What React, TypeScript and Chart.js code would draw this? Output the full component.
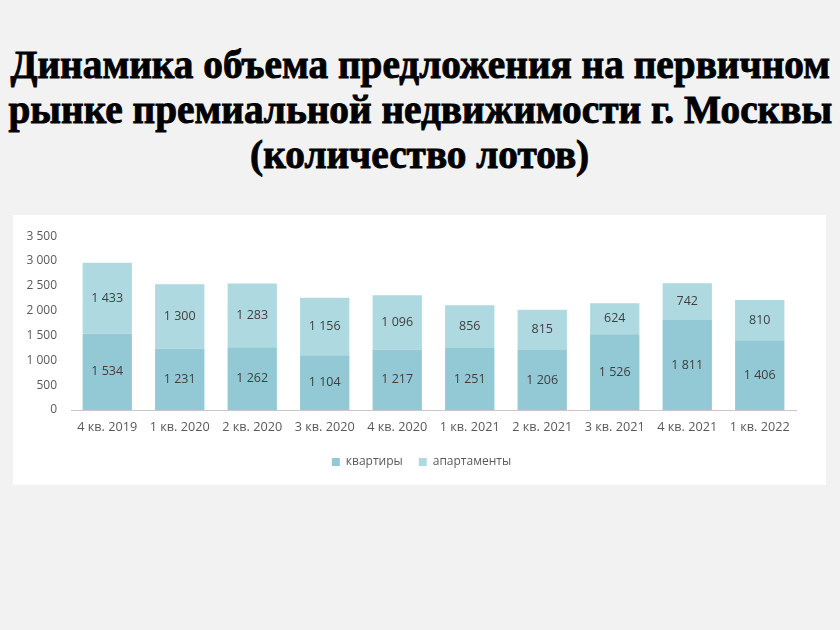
import React, { useEffect, useLayoutEffect, useRef, useState } from "react";
import { Chart, registerables } from "chart.js";

Chart.register(...registerables);

const titleLines = [
  "Динамика объема предложения на первичном",
  "рынке премиальной недвижимости г. Москвы",
  "(количество лотов)",
];

const categories = [
  "4 кв. 2019",
  "1 кв. 2020",
  "2 кв. 2020",
  "3 кв. 2020",
  "4 кв. 2020",
  "1 кв. 2021",
  "2 кв. 2021",
  "3 кв. 2021",
  "4 кв. 2021",
  "1 кв. 2022",
];

const seriesNames = ["квартиры", "апартаменты"];
const flats = [1534, 1231, 1262, 1104, 1217, 1251, 1206, 1526, 1811, 1406];
const apartments = [1433, 1300, 1283, 1156, 1096, 856, 815, 624, 742, 810];

const yMin = 0;
const yMax = 3500;
const yStep = 500;

const FONT = "'Open Sans', 'Noto Sans', sans-serif";

const fmt = (v: number) => String(v).replace(/\B(?=(\d{3})+(?!\d))/g, " ");

const dataLabelPlugin = {
  id: "dataLabels",
  afterDatasetsDraw(chart: any) {
    const ctx = chart.ctx;
    ctx.save();
    ctx.font = `12.5px ${FONT}`;
    ctx.fillStyle = "#404040";
    ctx.textAlign = "center";
    ctx.textBaseline = "middle";
    chart.data.datasets.forEach((ds: any, di: number) => {
      const meta = chart.getDatasetMeta(di);
      meta.data.forEach((el: any, i: number) => {
        const v = ds.data[i];
        const y = (el.y + el.base) / 2;
        ctx.fillText(fmt(v), el.x, y);
      });
    });
    ctx.restore();
  },
};

// centre the legend on the whole canvas rather than on the padded area
const legendCenterPlugin = {
  id: "legendCenter",
  afterLayout(chart: any) {
    const lg = chart.legend;
    if (lg) {
      lg.left = 2;
      lg.right = chart.width + 2;
      lg.width = chart.width;
    }
  },
};

function Title() {
  const ref = useRef<HTMLDivElement>(null);
  const [scale, setScale] = useState(1);
  useLayoutEffect(() => {
    const el = ref.current;
    if (!el) return;
    const spans = el.querySelectorAll("span");
    const w = (spans[1] as HTMLElement).offsetWidth;
    if (w > 0) setScale(824 / w);
  }, []);
  return (
    <div
      ref={ref}
      style={{
        position: "absolute",
        left: 0,
        top: 42,
        width: 840,
        fontFamily: "'Liberation Serif', 'DejaVu Serif', serif",
        fontWeight: 700,
        fontSize: 40,
        lineHeight: "45px",
        color: "#000",
        WebkitTextStroke: "0.9px #000",
      }}
    >
      {titleLines.map((t, i) => (
        <div key={i} style={{ textAlign: "center", whiteSpace: "nowrap" }}>
          <span
            style={{
              display: "inline-block",
              transform: `scaleX(${scale})`,
              transformOrigin: "center",
            }}
          >
            {t}
          </span>
        </div>
      ))}
    </div>
  );
}

function BarChart() {
  const canvasRef = useRef<HTMLCanvasElement>(null);
  useEffect(() => {
    const canvas = canvasRef.current;
    if (!canvas) return;
    const chart = new Chart(canvas, {
      type: "bar",
      data: {
        labels: categories,
        datasets: [
          {
            label: seriesNames[0],
            data: flats,
            backgroundColor: "#93C9D4",
            borderWidth: 0,
            barPercentage: 0.68,
            categoryPercentage: 1,
          },
          {
            label: seriesNames[1],
            data: apartments,
            backgroundColor: "#AFD9E0",
            borderWidth: 0,
            barPercentage: 0.68,
            categoryPercentage: 1,
          },
        ],
      },
      options: {
        animation: false,
        responsive: true,
        maintainAspectRatio: false,
        layout: { padding: { top: 19, right: 30, left: 0, bottom: 7 } },
        plugins: {
          tooltip: { enabled: false },
          title: { display: false },
          legend: {
            display: true,
            position: "bottom",
            labels: {
              boxWidth: 8,
              boxHeight: 8,
              padding: 16,
              color: "#595959",
              font: { family: FONT, size: 12 },
            },
          },
        },
        scales: {
          x: {
            stacked: true,
            grid: { display: false, drawTicks: false },
            border: { display: true, color: "#c8c8c8", dash: [2, 2], width: 1 },
            ticks: {
              color: "#595959",
              font: { family: FONT, size: 12.7 },
              padding: 10,
              maxRotation: 0,
              autoSkip: false,
            },
            afterFit: (s: any) => {
              s.height = 30;
            },
          },
          y: {
            stacked: true,
            min: yMin,
            max: yMax,
            grid: { display: false, drawTicks: false },
            border: { display: false },
            ticks: {
              stepSize: yStep,
              color: "#595959",
              font: { family: FONT, size: 12 },
              padding: 14,
              callback: (v: any) => fmt(Number(v)),
            },
            afterFit: (s: any) => {
              s.width = 58;
            },
          },
        },
      },
      plugins: [dataLabelPlugin, legendCenterPlugin],
    });
    return () => chart.destroy();
  }, []);
  return (
    <div
      style={{
        position: "absolute",
        left: 13,
        top: 215,
        width: 813,
        height: 270,
        background: "#ffffff",
      }}
    >
      <canvas ref={canvasRef} />
    </div>
  );
}

export default function App() {
  return (
    <div
      style={{
        position: "fixed",
        left: 0,
        top: 0,
        width: 840,
        height: 630,
        background: "#f2f2f2",
        overflow: "hidden",
      }}
    >
      <Title />
      <BarChart />
    </div>
  );
}
